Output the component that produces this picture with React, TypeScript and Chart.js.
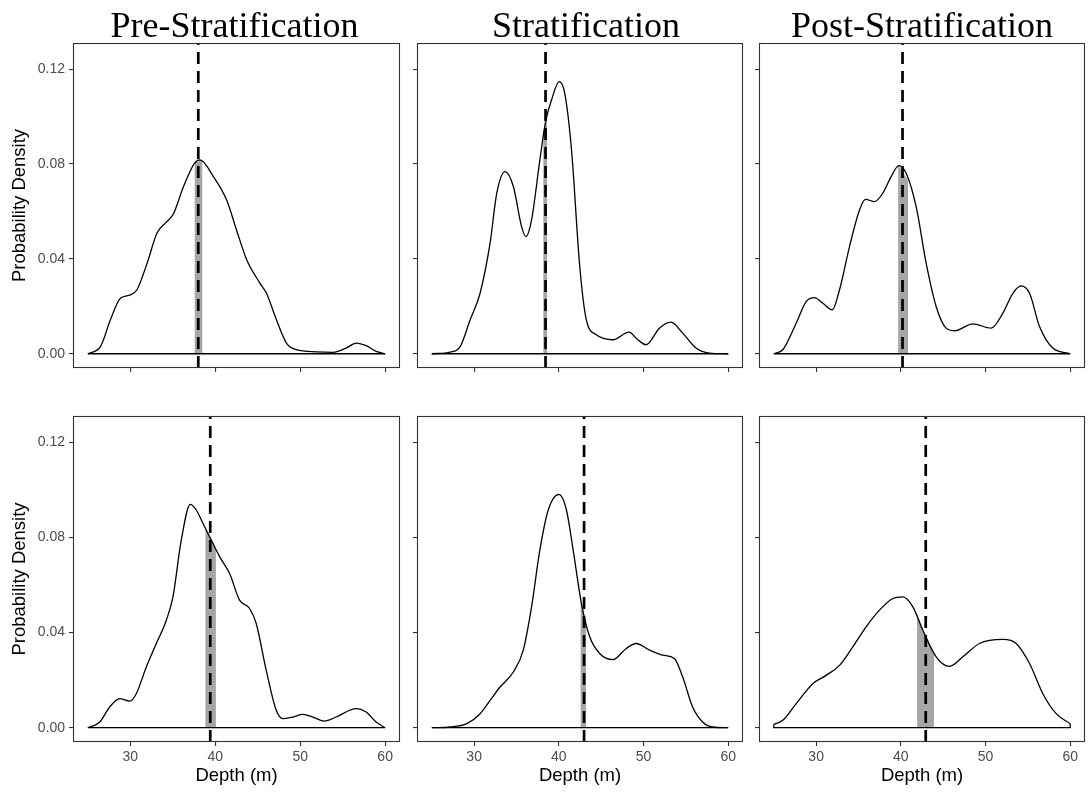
import React, { useEffect, useRef } from "react";
import { Chart, registerables } from "chart.js";

Chart.register(...registerables);

// ---------- text ----------
const columnTitles = ["Pre-Stratification", "Stratification", "Post-Stratification"];
const xAxisTitle = "Depth (m)";
const yAxisTitle = "Probability Density";
const xTickValues = [30, 40, 50, 60];
const yTickValues = [0, 0.04, 0.08, 0.12];

// ---------- top row ----------
const preTopDepth = [25.0, 26.5, 27.65, 28.83, 30.0, 30.78, 31.96, 33.13, 34.3, 35.08, 36.26, 37.55, 38.2, 39.78, 41.34, 42.5, 43.7, 45.25, 46.03, 47.2, 48.38, 49.55, 51.9, 53.86, 55.4, 56.6, 57.77, 58.94, 60.0];
const preTopDensity = [0.0, 0.0031, 0.0143, 0.0234, 0.0248, 0.027, 0.038, 0.0508, 0.0557, 0.059, 0.0705, 0.0803, 0.0817, 0.0747, 0.0648, 0.0522, 0.0396, 0.0298, 0.0255, 0.0143, 0.0045, 0.0017, 0.0008, 0.0006, 0.0024, 0.0045, 0.0034, 0.001, 0.0];

const stratTopDepth = [25.0, 27.18, 28.35, 29.53, 30.7, 31.88, 32.67, 33.65, 34.63, 35.6, 36.12, 36.78, 37.76, 38.43, 39.14, 40.04, 40.7, 41.5, 42.47, 43.25, 44.43, 46.4, 48.27, 49.33, 50.31, 51.88, 53.25, 54.63, 56.2, 57.76, 60.0];
const stratTopDensity = [0.0, 0.0007, 0.003, 0.0143, 0.0255, 0.0466, 0.0677, 0.0768, 0.0705, 0.0536, 0.0494, 0.0564, 0.0817, 0.0978, 0.107, 0.1147, 0.1098, 0.0859, 0.0368, 0.0143, 0.008, 0.0059, 0.0091, 0.0059, 0.0038, 0.0108, 0.0133, 0.0087, 0.0024, 0.0003, 0.0];

const postTopDepth = [25.0, 26.06, 27.64, 28.82, 29.8, 30.79, 31.89, 32.76, 33.94, 35.12, 35.83, 36.89, 37.87, 38.86, 39.76, 40.63, 41.81, 42.99, 44.17, 45.35, 46.34, 48.5, 50.67, 52.05, 53.23, 54.21, 55.2, 56.38, 57.95, 60.0];
const postTopDensity = [0.0, 0.0017, 0.0129, 0.022, 0.0237, 0.0213, 0.0185, 0.027, 0.0452, 0.0606, 0.0651, 0.0641, 0.0677, 0.0747, 0.0793, 0.0761, 0.062, 0.0382, 0.0199, 0.0108, 0.0097, 0.0126, 0.0108, 0.0171, 0.0255, 0.0286, 0.0255, 0.0115, 0.0024, 0.0];

// ---------- bottom row ----------
const preBottomDepth = [25.0, 26.4, 27.57, 28.75, 29.92, 30.7, 31.88, 33.06, 34.24, 35.02, 36.0, 37.06, 37.76, 38.55, 39.33, 40.51, 41.69, 42.86, 44.04, 44.82, 46.0, 47.18, 47.96, 49.14, 50.31, 51.49, 52.86, 54.24, 56.59, 57.76, 58.94, 60.0];
const preBottomDensity = [0.0, 0.0024, 0.0087, 0.0122, 0.0112, 0.0143, 0.0255, 0.0354, 0.0452, 0.055, 0.0789, 0.0939, 0.0915, 0.0859, 0.0803, 0.0719, 0.0648, 0.0536, 0.0501, 0.0438, 0.0241, 0.0073, 0.0038, 0.0045, 0.0056, 0.0045, 0.0028, 0.0045, 0.008, 0.0066, 0.0024, 0.0];

const stratBottomDepth = [25.0, 27.18, 29.14, 30.7, 31.88, 33.06, 34.63, 35.8, 36.78, 37.76, 38.75, 40.0, 40.9, 41.69, 42.67, 43.65, 44.82, 46.39, 47.96, 49.14, 50.71, 52.27, 53.65, 54.63, 55.8, 56.98, 58.16, 60.0];
const stratBottomDensity = [0.0, 0.0003, 0.0017, 0.0059, 0.0115, 0.0171, 0.0234, 0.0326, 0.0508, 0.0747, 0.0915, 0.0981, 0.0915, 0.0747, 0.0522, 0.0382, 0.0312, 0.0286, 0.0333, 0.0354, 0.0326, 0.0305, 0.0291, 0.0213, 0.0087, 0.0024, 0.0003, 0.0];

const postBottomDepth = [25.0, 26.06, 27.64, 29.6, 31.18, 32.76, 34.33, 35.9, 37.48, 39.06, 40.24, 41.42, 42.6, 44.17, 45.75, 47.32, 49.29, 52.05, 53.62, 55.2, 56.77, 58.35, 60.0];
const postBottomDensity = [0.0014, 0.0031, 0.0101, 0.0185, 0.022, 0.0262, 0.034, 0.0424, 0.0494, 0.0543, 0.055, 0.0508, 0.041, 0.0298, 0.0258, 0.0298, 0.0354, 0.0371, 0.0354, 0.027, 0.0143, 0.0059, 0.0017];

// ---------- shaded intervals ----------
const preTopShadeDepth = [37.55, 38.2, 38.5];
const preTopShadeDensity = [0.0803, 0.0817, 0.0812];
const stratTopShadeDepth = [38.15, 38.62];
const stratTopShadeDensity = [0.093, 0.1];
const postTopShadeDepth = [39.68, 39.8, 40.86];
const postTopShadeDensity = [0.0792, 0.0793, 0.073];
const preBottomShadeDepth = [38.82, 39.33, 40.08];
const preBottomShadeDensity = [0.084, 0.0803, 0.075];
const stratBottomShadeDepth = [42.55, 43.25];
const stratBottomShadeDensity = [0.054, 0.044];
const postBottomShadeDepth = [41.92, 42.6, 43.92];
const postBottomShadeDensity = [0.048, 0.041, 0.0305];

// ---------- mean depth lines ----------
const meanDepths = [38.0, 38.43, 40.2, 39.41, 42.98, 42.94];

// ---------- layout ----------
const X_MIN = 23.25;
const X_MAX = 61.75;
const Y_MIN = -0.006;
const Y_MAX = 0.131;

const COLS = [
  { left: 0, width: 408, axisW: 73, padRight: 8, titleShift: -2 },
  { left: 408, width: 343, axisW: 9, padRight: 8, titleShift: 6 },
  { left: 751, width: 338, axisW: 8, padRight: 4, titleShift: 0 },
];
const ROWS = [
  { top: 0, height: 390, padTop: 43, axisH: 22 },
  { top: 390, height: 403, padTop: 26, axisH: 51 },
];

const SANS = '"Liberation Sans", Arial, Helvetica, sans-serif';
const SERIF = '"Liberation Serif", "Times New Roman", serif';

const panelFrame = {
  id: "panelFrame",
  afterDatasetsDraw(chart: any) {
    const { ctx, chartArea } = chart;
    ctx.save();
    ctx.strokeStyle = "#333333";
    ctx.lineWidth = 1.1;
    ctx.strokeRect(chartArea.left + 0.5, chartArea.top + 0.5, chartArea.right - chartArea.left - 1, chartArea.bottom - chartArea.top - 1);
    ctx.restore();
  },
};

const panelTitle = {
  id: "panelTitle",
  afterDraw(chart: any, _args: any, opts: any) {
    if (!opts || !opts.text) return;
    const { ctx, chartArea } = chart;
    ctx.save();
    ctx.font = `${opts.size}px ${SERIF}`;
    ctx.fillStyle = "#000000";
    ctx.textAlign = "center";
    ctx.textBaseline = "alphabetic";
    ctx.fillText(opts.text, (chartArea.left + chartArea.right) / 2 + (opts.shift || 0), opts.baseline);
    ctx.restore();
  },
};

type PanelProps = {
  row: number;
  col: number;
  depth: number[];
  density: number[];
  shadeDepth: number[];
  shadeDensity: number[];
  mean: number;
};

function Panel({ row, col, depth, density, shadeDepth, shadeDensity, mean }: PanelProps) {
  const ref = useRef<HTMLCanvasElement | null>(null);
  const C = COLS[col];
  const R = ROWS[row];

  useEffect(() => {
    if (!ref.current) return;
    const isLeft = col === 0;
    const isBottom = row === 1;
    const n = depth.length;
    const chart = new Chart(ref.current, {
      type: "line",
      data: {
        datasets: [
          {
            label: "mean",
            data: [
              { x: mean, y: Y_MIN },
              { x: mean, y: Y_MAX },
            ],
            borderColor: "#000000",
            borderWidth: 2.7,
            borderDash: [12, 7],
            borderCapStyle: "butt",
            pointRadius: 0,
            tension: 0,
            fill: false,
            order: 0,
          },
          {
            label: "density",
            data: depth.map((x, i) => ({ x, y: density[i] })),
            borderColor: "#000000",
            borderWidth: 1.3,
            pointRadius: 0,
            cubicInterpolationMode: "monotone",
            fill: false,
            order: 1,
          },
          {
            label: "base",
            data: [
              { x: depth[0], y: density[0] },
              { x: depth[0], y: 0 },
              { x: depth[n - 1], y: 0 },
              { x: depth[n - 1], y: density[n - 1] },
            ],
            borderColor: "#000000",
            borderWidth: 1.3,
            pointRadius: 0,
            tension: 0,
            fill: false,
            order: 2,
          },
          {
            label: "interval",
            data: shadeDepth.map((x, i) => ({ x, y: shadeDensity[i] })),
            borderWidth: 0,
            borderColor: "rgba(0,0,0,0)",
            backgroundColor: "#a6a6a6",
            pointRadius: 0,
            tension: 0,
            fill: "origin",
            order: 3,
          },
        ],
      },
      options: {
        animation: false,
        responsive: false,
        devicePixelRatio: 1,
        events: [],
        layout: { padding: { top: R.padTop, right: C.padRight, left: 0, bottom: 0 } },
        plugins: {
          legend: { display: false },
          tooltip: { enabled: false },
          title: { display: false },
          panelTitle: row === 0 ? { text: columnTitles[col], size: 36, baseline: 37, shift: C.titleShift } : { text: "" },
        } as any,
        scales: {
          x: {
            type: "linear",
            min: X_MIN,
            max: X_MAX,
            afterBuildTicks: (s: any) => {
              s.ticks = xTickValues.map((v) => ({ value: v }));
            },
            afterFit: (s: any) => {
              s.height = R.axisH;
            },
            grid: { drawOnChartArea: false, drawTicks: true, tickLength: 4, color: "#333333", lineWidth: 1.1 },
            border: { display: false },
            ticks: {
              display: isBottom,
              color: "#4d4d4d",
              font: { family: SANS, size: 14 },
              padding: 3,
              maxRotation: 0,
              callback: (v: any) => String(v),
            },
            title: {
              display: isBottom,
              text: xAxisTitle,
              color: "#000000",
              font: { family: SANS, size: 18.5 },
              padding: { top: 0, bottom: 6 },
            },
          },
          y: {
            type: "linear",
            min: Y_MIN,
            max: Y_MAX,
            afterBuildTicks: (s: any) => {
              s.ticks = yTickValues.map((v) => ({ value: v }));
            },
            afterFit: (s: any) => {
              s.width = C.axisW;
            },
            grid: { drawOnChartArea: false, drawTicks: true, tickLength: 4, color: "#333333", lineWidth: 1.1 },
            border: { display: false },
            ticks: {
              display: isLeft,
              color: "#4d4d4d",
              font: { family: SANS, size: 14 },
              padding: 4,
              callback: (v: any) => Number(v).toFixed(2),
            },
            title: {
              display: isLeft,
              text: yAxisTitle,
              color: "#000000",
              font: { family: SANS, size: 18.5 },
              padding: { top: 9, bottom: 0 },
            },
          },
        },
      },
      plugins: [panelFrame, panelTitle],
    } as any);
    return () => chart.destroy();
  }, []);

  return (
    <canvas
      ref={ref}
      width={C.width}
      height={R.height}
      style={{ position: "absolute", left: C.left, top: R.top, width: C.width, height: R.height, display: "block" }}
    />
  );
}

export default function App() {
  const panels: PanelProps[] = [
    { row: 0, col: 0, depth: preTopDepth, density: preTopDensity, shadeDepth: preTopShadeDepth, shadeDensity: preTopShadeDensity, mean: meanDepths[0] },
    { row: 0, col: 1, depth: stratTopDepth, density: stratTopDensity, shadeDepth: stratTopShadeDepth, shadeDensity: stratTopShadeDensity, mean: meanDepths[1] },
    { row: 0, col: 2, depth: postTopDepth, density: postTopDensity, shadeDepth: postTopShadeDepth, shadeDensity: postTopShadeDensity, mean: meanDepths[2] },
    { row: 1, col: 0, depth: preBottomDepth, density: preBottomDensity, shadeDepth: preBottomShadeDepth, shadeDensity: preBottomShadeDensity, mean: meanDepths[3] },
    { row: 1, col: 1, depth: stratBottomDepth, density: stratBottomDensity, shadeDepth: stratBottomShadeDepth, shadeDensity: stratBottomShadeDensity, mean: meanDepths[4] },
    { row: 1, col: 2, depth: postBottomDepth, density: postBottomDensity, shadeDepth: postBottomShadeDepth, shadeDensity: postBottomShadeDensity, mean: meanDepths[5] },
  ];
  return (
    <div style={{ position: "absolute", left: 0, top: 0, width: 1089, height: 793, background: "#ffffff", overflow: "hidden" }}>
      {panels.map((p, i) => (
        <Panel key={i} {...p} />
      ))}
    </div>
  );
}
